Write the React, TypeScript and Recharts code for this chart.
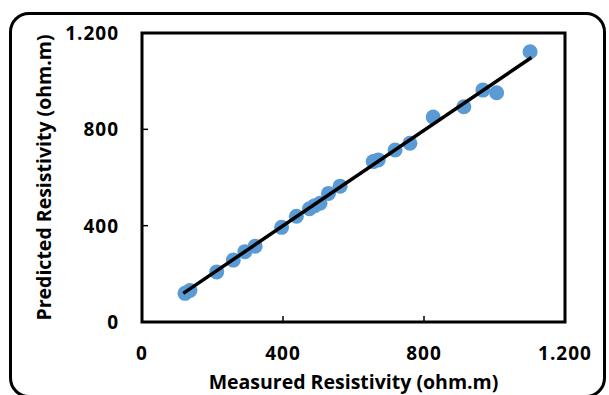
import { ScatterChart, Scatter, XAxis, YAxis, ReferenceArea } from "recharts";

// measured vs predicted resistivity (ohm.m)
const measured = [122, 136, 212, 259, 292, 321, 396, 438, 475, 490, 505, 529, 562, 656, 670, 718, 760, 826, 913, 967, 1006, 1101];
const predicted = [119, 131, 208, 257, 292, 315, 393, 439, 470, 483, 493, 534, 564, 666, 673, 714, 742, 851, 894, 963, 952, 1122];

// linear fit end points
const fitX = [117, 1105];
const fitY = [119, 1098];

const xTicks = [0, 400, 800, 1200];
const yTicks = [0, 400, 800, 1200];

const points = measured.map((x, i) => ({ x, y: predicted[i] }));
const fit = fitX.map((x, i) => ({ x, y: fitY[i] }));

const FONT = "'Open Sans', sans-serif";

const fmt = (v: number) => String(v).replace(/\B(?=(\d{3})+(?!\d))/g, ".");

const YTick = (props: any) => {
    const { x, y, payload } = props;
    const v = payload.value;
    const axisX = x + 23;
    return (
        <g>
            {v !== 0 && v !== 1200 && <line x1={axisX} x2={axisX + 6} y1={y} y2={y} stroke="#000" strokeWidth={1.5} />}
            <text x={x} y={y} dy="0.36em" textAnchor="end" fontFamily={FONT} fontWeight={700} fontSize={19} letterSpacing={1} fill="#000">
                {fmt(v)}
            </text>
        </g>
    );
};

const XTick = (props: any) => {
    const { x, y, payload } = props;
    const v = payload.value;
    const axisY = y - 25;
    return (
        <g>
            {v !== 0 && v !== 1200 && <line x1={x} x2={x} y1={axisY} y2={axisY - 6} stroke="#000" strokeWidth={1.5} />}
            <text x={x} y={y} dy="0.7em" textAnchor="middle" fontFamily={FONT} fontWeight={700} fontSize={19} letterSpacing={1} fill="#000">
                {fmt(v)}
            </text>
        </g>
    );
};

const Dot = (props: any) => <circle cx={props.cx} cy={props.cy} r={7.5} fill="#5B9BD5" />;

const titleStyle = { fontFamily: FONT, fontWeight: 700, fontSize: 19.5, fill: "#000" };

export default function App() {
    return (
        <div style={{ position: "absolute", left: 0, top: 0, width: 609, height: 395, overflow: "hidden", background: "#fff" }}>
            <div
                style={{
                    position: "absolute",
                    left: 9,
                    top: 12,
                    width: 597,
                    height: 386,
                    border: "3px solid #000",
                    borderRadius: 20,
                    boxSizing: "border-box",
                }}
            />
            <div style={{ position: "absolute", left: 0, top: 0 }}>
                <ScatterChart width={609} height={395} margin={{ top: 33, right: 44, bottom: 0, left: 0 }}>
                    <XAxis
                        type="number"
                        dataKey="x"
                        domain={[0, 1200]}
                        ticks={xTicks}
                        axisLine={false}
                        tickLine={false}
                        tickSize={0}
                        tickMargin={25}
                        tick={<XTick />}
                        height={73}
                        label={{
                            value: "Measured Resistivity (ohm.m)",
                            position: "insideBottom",
                            offset: 6,
                            style: titleStyle,
                        }}
                    />
                    <YAxis
                        type="number"
                        dataKey="y"
                        domain={[0, 1200]}
                        ticks={yTicks}
                        axisLine={false}
                        tickLine={false}
                        tickSize={0}
                        tickMargin={23}
                        tick={<YTick />}
                        width={142}
                        label={{
                            value: "Predicted Resistivity (ohm.m)",
                            angle: -90,
                            position: "insideLeft",
                            offset: 44,
                            style: { ...titleStyle, textAnchor: "middle" },
                        }}
                    />
                    <ReferenceArea x1={0} x2={1200} y1={0} y2={1200} fill="none" stroke="#000" strokeWidth={3} />
                    <Scatter data={points} shape={<Dot />} isAnimationActive={false} />
                    <Scatter
                        data={fit}
                        line={{ stroke: "#000", strokeWidth: 3.5 }}
                        shape={() => <g />}
                        isAnimationActive={false}
                    />
                </ScatterChart>
            </div>
        </div>
    );
}
